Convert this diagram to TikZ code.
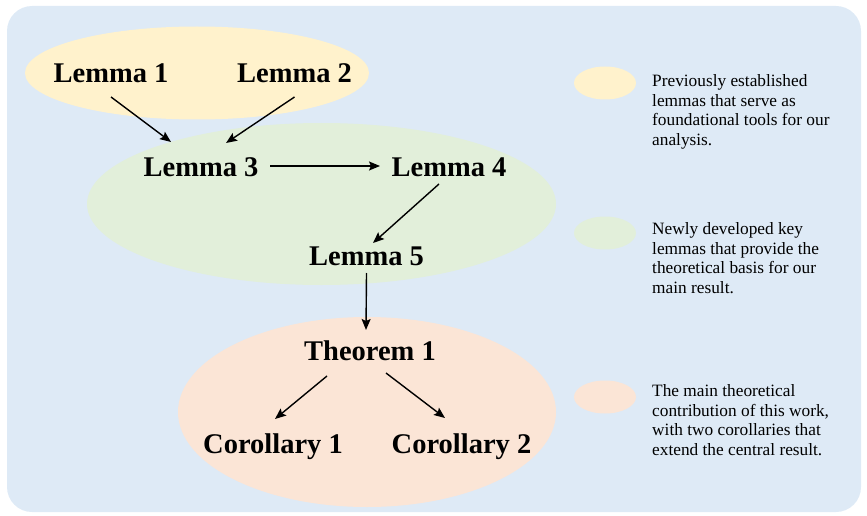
\documentclass[tikz,border=0pt]{standalone}
\usepackage{fontspec}
\setmainfont{Liberation Serif}
\usetikzlibrary{arrows.meta,calc}
\definecolor{bgblue}{HTML}{DEEAF6}
\definecolor{lyellow}{HTML}{FFF2CC}
\definecolor{lgreen}{HTML}{E2EFDA}
\definecolor{lpink}{HTML}{FBE5D6}
\tikzset{
  thm/.style={font=\fontsize{28.5}{34}\selectfont\bfseries, inner sep=0pt, anchor=base},
  legtext/.style={font=\fontsize{17.3}{19.6}\selectfont, align=left, inner sep=0pt, anchor=north west},
  conn/.style={line width=1.4pt, -{Stealth[length=11pt,width=9pt,inset=2pt]}},
}
\begin{document}
\begin{tikzpicture}[x=1pt,y=-1pt]
\useasboundingbox (0,0) rectangle (867,516);
\fill[bgblue, rounded corners=25pt] (7,6) rectangle (861,512);
% group ellipses
\fill[lyellow] (197,73) ellipse [x radius=172, y radius=46.5];
\fill[lgreen] (321.5,204) ellipse [x radius=234.5, y radius=81];
\fill[lpink] (367,412) ellipse [x radius=189, y radius=95];
% nodes
\node[thm] (L1) at (111,83) {Lemma 1};
\node[thm] (L2) at (294.5,83) {Lemma 2};
\node[thm] (L3) at (201,176) {Lemma 3};
\node[thm] (L4) at (449,176) {Lemma 4};
\node[thm] (L5) at (366.5,265) {Lemma 5};
\node[thm] (T1) at (370,360) {Theorem 1};
\node[thm] (C1) at (273,453) {Corollary 1};
\node[thm] (C2) at (461.5,453) {Corollary 2};
% connectors
\draw[conn] ($(L1.base)+(0,14)$) -- ($(L3.base)+(-30,-34)$);
\draw[conn] ($(L2.base)+(0,14)$) -- ($(L3.base)+(25,-33)$);
\draw[conn] ($(L3.base)+(69,-10)$) -- ($(L4.base)+(-69,-10)$);
\draw[conn] ($(L4.base)+(-10,8)$) -- ($(L5.base)+(6.5,-22)$);
\draw[conn] ($(L5.base)+(0,8)$) -- ($(T1.base)+(-4,-30)$);
\draw[conn] ($(T1.base)+(-43,16)$) -- ($(C1.base)+(2,-34)$);
\draw[conn] ($(T1.base)+(16,13)$) -- ($(C2.base)+(-16.5,-35)$);
% legend
\fill[lyellow] (605,83) ellipse [x radius=31, y radius=16.5];
\fill[lgreen] (605,233) ellipse [x radius=31, y radius=16.5];
\fill[lpink] (605,397) ellipse [x radius=31, y radius=16.5];
\node[legtext] (t1) at (652,74.2) {Previously established\\lemmas that serve as\\foundational tools for our\\analysis.};
\node[legtext] (t2) at (652,222.2) {Newly developed key\\lemmas that provide the\\theoretical basis for our\\main result.};
\node[legtext] (t3) at (652,384.2) {The main theoretical\\contribution of this work,\\with two corollaries that\\extend the central result.};
\end{tikzpicture}
\end{document}
